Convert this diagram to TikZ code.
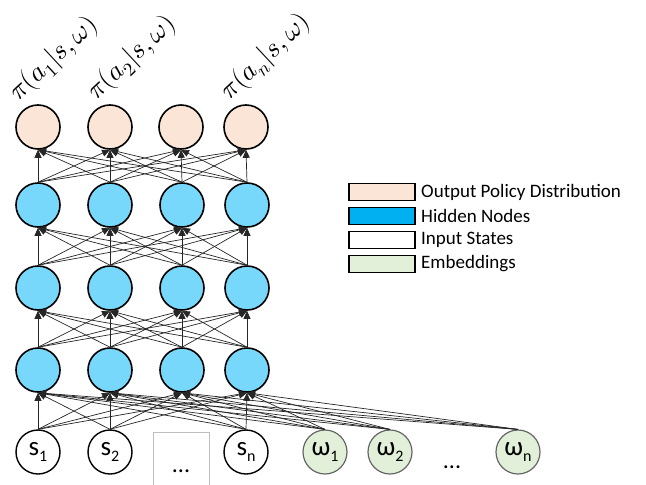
\documentclass[tikz,border=0pt]{standalone}
\usepackage{fontspec}
\usepackage{unicode-math}
\setmainfont{Carlito}
\setmathfont{Latin Modern Math}
\usetikzlibrary{arrows.meta}
\definecolor{outfill}{HTML}{FBE5D6}
\definecolor{hidfill}{HTML}{78D8FC}
\definecolor{hidkey}{HTML}{00B0F0}
\definecolor{embfill}{HTML}{E2F0D9}
\newcommand{\lowsub}[1]{\raisebox{-6pt}{\fontsize{16}{16}\selectfont #1}}

\begin{document}
\begin{tikzpicture}[x=1pt,y=-1pt,
  neuron/.style={circle,draw=black,line width=1.6pt,minimum size=44pt,inner sep=0pt,
                 font=\fontsize{27}{27}\selectfont},
  outnode/.style={neuron,fill=outfill},
  hidnode/.style={neuron,fill=hidfill},
  innode/.style={neuron,fill=white,line width=1.4pt},
  embnode/.style={neuron,draw=black!60,line width=1.2pt,fill=embfill},
  link/.style={line width=0.7pt,draw=black!85,-{Triangle[length=8pt,width=7pt]}},
  keybox/.style={draw=black,line width=1.6pt,minimum width=66pt,minimum height=17pt,inner sep=0pt},
  keytext/.style={anchor=west,font=\fontsize{19}{19}\selectfont,inner sep=0pt},
  plabel/.style={rotate=43,font=\fontsize{27}{27}\selectfont,inner sep=0pt},
  dots/.style={anchor=base,font=\fontsize{24}{24}\selectfont,inner sep=0pt}
]
\useasboundingbox (0,0) rectangle (646,485);

% output layer
\node[outnode] (o1) at (38,127) {};
\node[outnode] (o2) at (110,127) {};
\node[outnode] (o3) at (181,127) {};
\node[outnode] (o4) at (246,127) {};

% hidden layers
\foreach \r/\y in {1/205,2/288,3/370}{
  \node[hidnode] (h\r1) at (38,\y) {};
  \node[hidnode] (h\r2) at (110,\y) {};
  \node[hidnode] (h\r3) at (182,\y) {};
  \node[hidnode] (h\r4) at (247,\y) {};
}

% input states
\node[innode] (s1) at (38,452) {s\lowsub{1}};
\node[innode] (s2) at (110,452) {s\lowsub{2}};
\node[innode] (sn) at (246,452) {s\lowsub{n}};
\node[draw=black!25,line width=0.8pt,minimum width=56pt,minimum height=64pt,inner sep=0pt] (gap) at (181,464) {};
\node[dots] (sdots) at (181,472) {...};

% embeddings
\node[embnode] (w1) at (325,452) {ω\lowsub{1}};
\node[embnode] (w2) at (390,452) {ω\lowsub{2}};
\node[embnode] (wn) at (518,452) {ω\lowsub{n}};
\node[dots] (wdots) at (452,468) {...};

% policy labels
\node[plabel] (p1) at (54,59) {$\pi(a_1|s,\omega)$};
\node[plabel] (p2) at (132,58) {$\pi(a_2|s,\omega)$};
\node[plabel] (pn) at (266,57) {$\pi(a_n|s,\omega)$};

% connections
\foreach \s in {s1,s2,sn,w1,w2,wn}
  \foreach \t in {h31,h32,h33,h34}
    \draw[link] (\s.north) -- (\t.south);
\foreach \s in {h31,h32,h33,h34}
  \foreach \t in {h21,h22,h23,h24}
    \draw[link] (\s.north) -- (\t.south);
\foreach \s in {h21,h22,h23,h24}
  \foreach \t in {h11,h12,h13,h14}
    \draw[link] (\s.north) -- (\t.south);
\foreach \s in {h11,h12,h13,h14}
  \foreach \t in {o1,o2,o3,o4}
    \draw[link] (\s.north) -- (\t.south);

% legend
\node[keybox,fill=outfill] (k1) at (382,192) {};
\node[keybox,fill=hidkey] (k2) at (382,216) {};
\node[keybox,fill=white] (k3) at (382,240) {};
\node[keybox,fill=embfill] (k4) at (382,264) {};
\node[keytext] (t1) at (421,192) {Output Policy Distribution};
\node[keytext] (t2) at (421,216) {Hidden Nodes};
\node[keytext] (t3) at (421,240) {Input States};
\node[keytext] (t4) at (421,264) {Embeddings};
\end{tikzpicture}
\end{document}
